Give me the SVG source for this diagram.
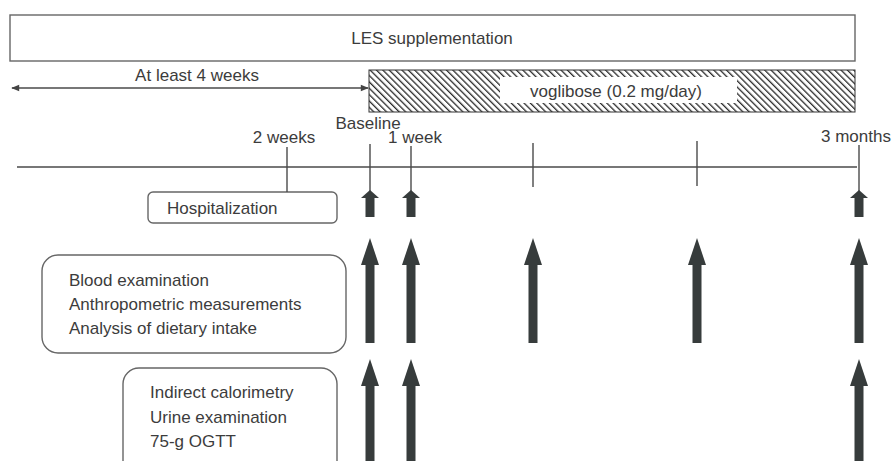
<svg xmlns="http://www.w3.org/2000/svg" width="893" height="461" viewBox="0 0 893 461">
<defs>
<style>
text{font-family:"Liberation Sans",Arial,sans-serif;font-size:17px;fill:#3c3c3c}
.ln{stroke:#4a4a4a;stroke-width:1.4;fill:none}
.box{fill:#fff;stroke:#666;stroke-width:1.4}
.arr{fill:#373c3c}
</style>
<pattern id="hatch" width="4.5" height="4.5" patternUnits="userSpaceOnUse" patternTransform="rotate(-45)">
<rect width="4.5" height="4.5" fill="#fff"/>
<line x1="0" y1="0" x2="0" y2="4.5" stroke="#2a2a2a" stroke-width="2.6"/>
</pattern>
<marker id="ah" viewBox="0 0 10 10" refX="9" refY="5" markerWidth="9" markerHeight="8" orient="auto-start-reverse" markerUnits="userSpaceOnUse">
<path d="M0,1 L10,5 L0,9 Z" fill="#444"/>
</marker>
<path id="small" d="M-4.5,8 L-9,8 L0,0 L9,8 L4.5,8 L4.5,27 L-4.5,27 Z"/>
<path id="big" d="M-4.5,27 L-9,27 L0,0 L9,27 L4.5,27 L4.5,105 L-4.5,105 Z"/>
</defs>
<rect width="893" height="461" fill="#fff"/>

<g id="les">
<rect class="box" x="10" y="15" width="845" height="46"/>
<text x="432" y="44" text-anchor="middle">LES supplementation</text>
</g>

<g id="voglibose">
<rect x="369" y="70" width="486" height="42" fill="url(#hatch)" stroke="#333" stroke-width="1"/>
<rect x="500" y="77" width="237" height="26" fill="#fff"/>
<text x="616" y="97" text-anchor="middle">voglibose (0.2 mg/day)</text>
</g>

<g id="runin">
<text x="197" y="81" text-anchor="middle">At least 4 weeks</text>
</g>

<g id="labels">
<text x="284" y="143" text-anchor="middle">2 weeks</text>
<text x="368" y="129" text-anchor="middle">Baseline</text>
<text x="415" y="143" text-anchor="middle">1 week</text>
<text x="856" y="142" text-anchor="middle">3 months</text>
</g>

<g id="hospitalization">
<rect class="box" x="148" y="192" width="189" height="31" rx="5"/>
<text x="167" y="214">Hospitalization</text>
</g>

<g id="blood">
<rect class="box" x="42" y="255" width="304" height="98" rx="16"/>
<text x="69" y="286">Blood examination</text>
<text x="69" y="310">Anthropometric measurements</text>
<text x="69" y="334">Analysis of dietary intake</text>
</g>

<g id="indirect">
<rect class="box" x="123" y="368" width="214" height="110" rx="16"/>
<text x="150" y="398">Indirect calorimetry</text>
<text x="150" y="423">Urine examination</text>
<text x="150" y="447">75-g OGTT</text>
</g>

<g id="connectors">
<line class="ln" x1="12" y1="88" x2="368" y2="88" marker-start="url(#ah)" marker-end="url(#ah)"/>
<line class="ln" x1="17" y1="167" x2="857" y2="167"/>
<line class="ln" x1="287" y1="147" x2="287" y2="192"/>
<line class="ln" x1="370" y1="144" x2="370" y2="191"/>
<line class="ln" x1="411" y1="146" x2="411" y2="191"/>
<line class="ln" x1="533" y1="143" x2="533" y2="187"/>
<line class="ln" x1="697" y1="141" x2="697" y2="186"/>
<line class="ln" x1="859" y1="145" x2="859" y2="191"/>
<g class="arr">
<use href="#small" x="370" y="190"/>
<use href="#small" x="411" y="190"/>
<use href="#small" x="859" y="190"/>
<use href="#big" x="370" y="238"/>
<use href="#big" x="411" y="238"/>
<use href="#big" x="533" y="238"/>
<use href="#big" x="697" y="238"/>
<use href="#big" x="859" y="238"/>
<use href="#big" x="370" y="359"/>
<use href="#big" x="411" y="359"/>
<use href="#big" x="859" y="359"/>
</g>
</g>
</svg>
